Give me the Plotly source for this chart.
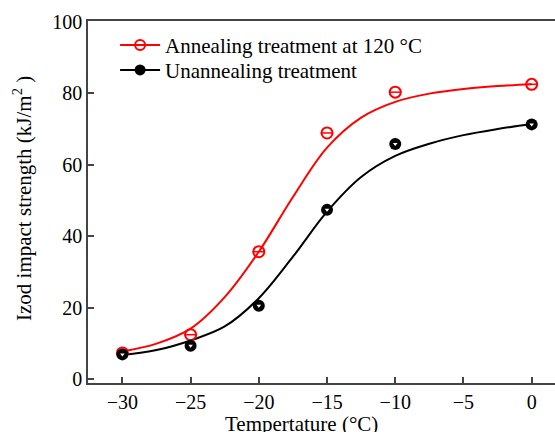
import plotly.graph_objects as go

# measured points
temps = [-30, -25, -20, -15, -10, 0]
annealed = [7.4, 12.5, 35.7, 68.9, 80.3, 82.5]
unannealed = [7.0, 9.4, 20.6, 47.4, 65.8, 71.3]

# fitted curves
curve_x = [-30, -27.5, -25, -22.5, -20, -17.5, -15, -12.5, -10, -7.5, -5, -2.5, 0]
annealed_fit = [7.8, 10.0, 14.2, 23.0, 35.7, 51.0, 64.8, 73.2, 77.6, 79.9, 81.2, 82.0, 82.5]
unannealed_fit = [6.8, 8.2, 10.9, 14.8, 22.7, 34.3, 46.9, 56.6, 62.5, 65.9, 68.3, 70.0, 71.4]

x_ticks = [-30, -25, -20, -15, -10, -5, 0]
y_ticks = [0, 20, 40, 60, 80, 100]

RED = "#ff0000"
BLACK = "#000000"
FONT = "Liberation Serif"

fig = go.Figure()

# curves
fig.add_trace(go.Scatter(x=curve_x, y=annealed_fit, mode="lines",
                         line=dict(color=RED, width=2, shape="spline", smoothing=1.0),
                         showlegend=False, hoverinfo="skip"))
fig.add_trace(go.Scatter(x=curve_x, y=unannealed_fit, mode="lines",
                         line=dict(color=BLACK, width=2, shape="spline", smoothing=1.0),
                         showlegend=False, hoverinfo="skip"))

# markers
fig.add_trace(go.Scatter(x=temps, y=annealed, mode="markers",
                         marker=dict(symbol="circle-open", size=11, color=RED, line=dict(width=2, color=RED)),
                         showlegend=False))
fig.add_trace(go.Scatter(x=temps, y=annealed, mode="markers",
                         marker=dict(symbol="line-ew", size=9, color=RED, line=dict(width=1.5, color=RED)),
                         showlegend=False))
fig.add_trace(go.Scatter(x=temps, y=unannealed, mode="markers",
                         marker=dict(symbol="circle", size=12, color=BLACK),
                         showlegend=False))
fig.add_trace(go.Scatter(x=temps, y=unannealed, mode="markers",
                         marker=dict(symbol="triangle-down", size=4, color="white", line=dict(width=0)),
                         showlegend=False))

# legend entries
fig.add_trace(go.Scatter(x=[None], y=[None], mode="lines+markers", name="Annealing treatment at 120 °C",
                         line=dict(color=RED, width=2), legend="legend",
                         marker=dict(symbol="circle-open", size=10, color=RED, line=dict(width=2, color=RED))))
fig.add_trace(go.Scatter(x=[None], y=[None], mode="lines+markers", name="Unannealing treatment",
                         line=dict(color=BLACK, width=2), legend="legend2",
                         marker=dict(symbol="circle", size=11, color=BLACK)))

leg_common = dict(xanchor="left", yanchor="middle", bgcolor="rgba(0,0,0,0)",
                  font=dict(family=FONT, size=21), itemwidth=40)

fig.update_layout(
    width=555, height=432,
    margin=dict(l=88, r=0, t=21, b=49, autoexpand=False),
    paper_bgcolor="white", plot_bgcolor="white",
    font=dict(family=FONT, size=20, color="black"),
    showlegend=True,
    legend=dict(x=0.058, y=0.933, **leg_common),
    legend2=dict(x=0.058, y=0.864, **leg_common),
    annotations=[
        dict(text="Tempertature (°C)", xref="paper", yref="paper", x=0.458, y=-0.112,
             xanchor="center", yanchor="middle", showarrow=False, font=dict(family=FONT, size=21)),
        dict(text="Izod impact strength (kJ/m<sup>2</sup> )", xref="paper", yref="paper", x=-0.14, y=0.51,
             xanchor="center", yanchor="middle", textangle=-90, showarrow=False, font=dict(family=FONT, size=21)),
    ],
)

fig.update_xaxes(range=[-32.52, 1.71], tickvals=x_ticks, ticktext=[str(v).replace("-", "\u2212") for v in x_ticks],
                 ticks="inside", ticklen=6, tickwidth=1.5, tickcolor="#444", automargin=False,
                 showline=True, linecolor="#444", linewidth=1.5, mirror=True,
                 showgrid=False, zeroline=False, tickfont=dict(family=FONT, size=20))
fig.update_yaxes(range=[-1, 100.2], tickvals=y_ticks, automargin=False,
                 ticks="inside", ticklen=6, tickwidth=1.5, tickcolor="#444",
                 showline=True, linecolor="#444", linewidth=1.5, mirror=False,
                 showgrid=False, zeroline=False, tickfont=dict(family=FONT, size=20))

fig.write_html("out.html", config={"displayModeBar": False},
               post_script="document.body.style.margin='0';document.body.style.overflow='hidden';")
